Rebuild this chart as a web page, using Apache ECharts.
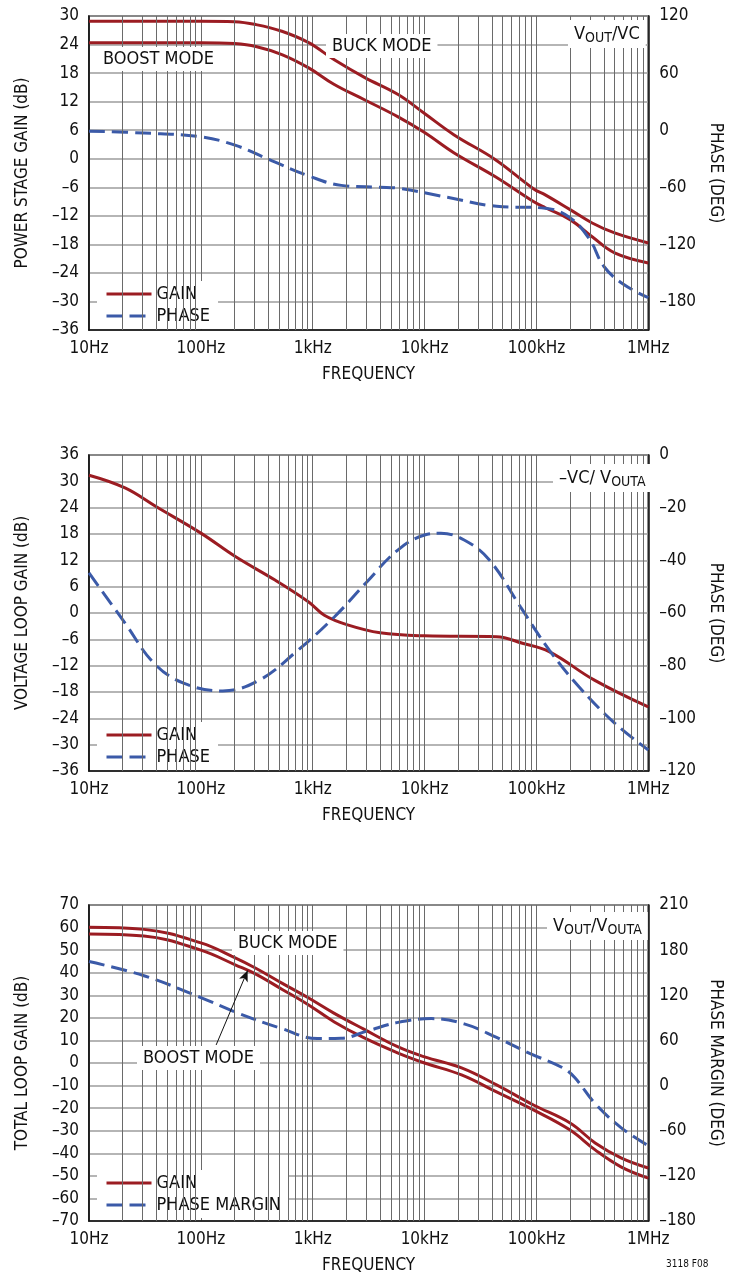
<!DOCTYPE html>
<html>
<head>
<meta charset="utf-8">
<script src="https://cdn.jsdelivr.net/npm/echarts@6/dist/echarts.min.js"></script>
<style>
  html, body { margin: 0; padding: 0; background: #fff; }
  #chart { width: 732px; height: 1275px; }
</style>
</head>
<body>
<div id="chart"></div>
<script>
const FONT = "'Liberation Sans Narrow', 'DejaVu Sans Condensed', 'Arial Narrow', sans-serif";
const RED = '#9b1c22';
const BLUE = '#3b5aa8';
const INK = '#111';

// frequency axis (shared by the three plots)
const freqTickLabels = ['10Hz', '100Hz', '1kHz', '10kHz', '100kHz', '1MHz'];
const decades = [10, 100, 1000, 10000, 100000];

// plot 1: power stage, VOUT/VC
const gain1Freq = [10, 30, 100, 200, 310, 530, 920, 1560, 2900, 5800, 10000, 18400, 43000, 94000, 120000, 200000, 315000, 500000, 1000000];
const gain1Buck = [28.9, 28.9, 28.9, 28.8, 28.2, 26.8, 24.4, 20.8, 17.1, 13.5, 9.5, 5, -0.2, -6.3, -7.6, -10.7, -13.5, -15.6, -17.7];
const gain1Boost = [24.4, 24.4, 24.4, 24.2, 23.6, 21.9, 19.1, 15.6, 12.4, 8.8, 5.5, 1.2, -3.8, -9, -10.3, -12.8, -16.4, -19.8, -21.9];
const phase1Freq = [10, 31, 100, 205, 410, 920, 1800, 4000, 5800, 16000, 44000, 120000, 200000, 300000, 400000, 600000, 1000000];
const phase1 = [-1, -3, -7, -16, -31, -48, -58, -60, -61, -70.5, -80, -82, -92, -115, -143, -162, -176];
const gain1Ticks = [30, 24, 18, 12, 6, 0, -6, -12, -18, -24, -30, -36];
const phase1Ticks = [120, 60, 0, -60, -120, -180];

// plot 2: voltage loop, -VC/VOUTA
const gain2Freq = [10, 21, 40, 100, 205, 460, 920, 1270, 2050, 4000, 10000, 44000, 75000, 130000, 330000, 1000000];
const gain2 = [31.4, 28.5, 24.2, 18.2, 12.8, 7.5, 2.5, -0.5, -2.7, -4.5, -5.2, -5.4, -6.9, -8.8, -15.3, -21.4];
const phase2Freq = [10, 21, 38, 70, 157, 333, 690, 1560, 3000, 5800, 10000, 14000, 22600, 38000, 72000, 130000, 240000, 500000, 1000000];
const phase2 = [-44.8, -63.8, -79, -86.6, -89.6, -85.5, -75.2, -61.5, -48.5, -36, -30.4, -29.7, -32.3, -39.9, -57.7, -74, -88, -101.8, -112];
const gain2Ticks = [36, 30, 24, 18, 12, 6, 0, -6, -12, -18, -24, -30, -36];
const phase2Ticks = [0, -20, -40, -60, -80, -100, -120];

// plot 3: total loop, VOUT/VOUTA
const gain3Freq = [10, 31, 100, 205, 310, 530, 920, 1560, 2860, 5800, 10000, 21400, 44000, 94000, 200000, 335000, 570000, 1000000];
const gain3Buck = [60.1, 59.2, 53.2, 46.5, 42, 35.4, 28.8, 22, 15, 7.1, 2.7, -2.2, -9.7, -18.6, -26.6, -35.4, -42, -46.5];
const gain3Boost = [57.2, 56.3, 50, 43.4, 39.4, 32.7, 25.7, 18.2, 11.2, 4.4, 0, -5.3, -12.8, -20.8, -29.7, -38.5, -46, -51];
const pm3Freq = [10, 31, 100, 205, 530, 1100, 1800, 3000, 5800, 11500, 22600, 44000, 88000, 170000, 220000, 335000, 570000, 1000000];
const pm3 = [164.8, 146, 117, 97.5, 75.7, 62.5, 62.9, 72, 84, 89, 82, 64, 42.5, 24, 10.6, -24, -55.8, -80];
const gain3Ticks = [70, 60, 50, 40, 30, 20, 10, 0, -10, -20, -30, -40, -50, -60, -70];
const pm3TickValues = [240, 180, 120, 60, 0, -60, -120, -180];
const pm3TickText = ['210', '180', '120', '60', '0', '–60', '–120', '–180'];

// arrow from the BOOST MODE label to its curve (freq, dB)
const boostArrow = [[137, 8], [262, 41]];

const zip = (xs, ys) => xs.map((x, i) => [x, ys[i]]);
const dash = v => (v < 0 ? '–' + (-v) : String(v));
const minorFreqs = [];
decades.forEach(d => { for (let k = 2; k <= 9; k++) minorFreqs.push(d * k); });

const labelStyle = { fontFamily: FONT, fontSize: 17, color: INK };

const grids = [
  { left: 89, top: 16, width: 568, height: 314 },
  { left: 89, top: 455, width: 568, height: 316 },
  { left: 89, top: 905, width: 568, height: 316 }
].map(g => Object.assign(g, { show: true, borderColor: INK, borderWidth: 1.5, containLabel: false }));

const xAxes = [0, 1, 2].map(i => ({
  type: 'log', logBase: 10, min: 10, max: 1000000, gridIndex: i,
  axisLine: { onZero: false, lineStyle: { color: INK, width: 1.5 } },
  axisTick: { show: false },
  axisLabel: Object.assign({ margin: 10, showMinLabel: true, showMaxLabel: true,
    formatter: v => freqTickLabels[Math.round(Math.log10(v)) - 1] }, labelStyle),
  splitLine: { show: true, lineStyle: { color: '#6a6a6a', width: 1 } },
  name: 'FREQUENCY', nameLocation: 'middle', nameGap: 36,
  nameTextStyle: Object.assign({}, labelStyle)
}));

function leftAxis(i, min, max, interval, ticks, name) {
  return {
    type: 'value', gridIndex: i, position: 'left', min, max, interval,
    axisLine: { show: true, onZero: false, lineStyle: { color: INK, width: 1.5 } },
    axisTick: { show: false },
    axisLabel: Object.assign({ margin: 10, formatter: v => (ticks.includes(v) ? dash(v) : '') }, labelStyle),
    splitLine: { show: true, lineStyle: { color: '#9c9c9c', width: 1.5 } },
    name, nameLocation: 'middle', nameGap: 58, nameRotate: 90,
    nameTextStyle: Object.assign({}, labelStyle)
  };
}
function rightAxis(i, min, max, interval, fmt, name) {
  return {
    type: 'value', gridIndex: i, position: 'right', min, max, interval,
    axisLine: { show: true, onZero: false, lineStyle: { color: INK, width: 1.5 } },
    axisTick: { show: false },
    axisLabel: Object.assign({ margin: 11, formatter: fmt }, labelStyle),
    splitLine: { show: false },
    name, nameLocation: 'middle', nameGap: 56, nameRotate: -90,
    nameTextStyle: Object.assign({}, labelStyle)
  };
}

const yAxes = [
  leftAxis(0, -36, 30, 6, gain1Ticks, 'POWER STAGE GAIN (dB)'),
  rightAxis(0, -210, 120, 30, v => (phase1Ticks.includes(v) ? dash(v) : ''), 'PHASE (DEG)'),
  leftAxis(1, -36, 36, 6, gain2Ticks, 'VOLTAGE LOOP GAIN (dB)'),
  rightAxis(1, -120, 0, 10, v => (phase2Ticks.includes(v) ? dash(v) : ''), 'PHASE (DEG)'),
  leftAxis(2, -70, 70, 10, gain3Ticks, 'TOTAL LOOP GAIN (dB)'),
  rightAxis(2, -180, 240, 30, v => { const k = pm3TickValues.indexOf(v); return k < 0 ? '' : pm3TickText[k]; }, 'PHASE MARGIN (DEG)')
];

function gridLines(i) {
  return {
    type: 'line', name: 'grid' + i, xAxisIndex: i, yAxisIndex: 2 * i, data: [], z: 1, silent: true,
    markLine: {
      silent: true, animation: false, symbol: ['none', 'none'], label: { show: false },
      lineStyle: { color: '#6a6a6a', width: 1, type: 'solid' },
      emphasis: { disabled: true },
      data: minorFreqs.map(f => ({ xAxis: f }))
    }
  };
}
function curve(name, i, yIdx, pts, color, dashed) {
  return {
    type: 'line', name, xAxisIndex: i, yAxisIndex: yIdx, data: pts, z: 3,
    symbol: 'none', showSymbol: false, smooth: 0.4, animation: false,
    lineStyle: { color, width: 3, type: dashed ? [16, 7] : 'solid' },
    itemStyle: { color }
  };
}

const boost3 = curve('GAIN', 2, 4, zip(gain3Freq, gain3Boost), RED, false);
boost3.markLine = {
  silent: true, animation: false, symbol: ['none', 'arrow'], symbolSize: [7, 11],
  label: { show: false }, lineStyle: { color: INK, width: 1, type: 'solid' },
  data: [[{ coord: boostArrow[0] }, { coord: boostArrow[1] }]]
};

const series = [
  gridLines(0), gridLines(1), gridLines(2),
  curve('GAIN', 0, 0, zip(gain1Freq, gain1Buck), RED, false),
  curve('GAIN', 0, 0, zip(gain1Freq, gain1Boost), RED, false),
  curve('PHASE', 0, 1, zip(phase1Freq, phase1), BLUE, true),
  curve('GAIN', 1, 2, zip(gain2Freq, gain2), RED, false),
  curve('PHASE', 1, 3, zip(phase2Freq, phase2), BLUE, true),
  curve('GAIN', 2, 4, zip(gain3Freq, gain3Buck), RED, false),
  boost3,
  curve('PHASE MARGIN', 2, 5, zip(pm3Freq, pm3), BLUE, true)
];

function legend(top, names) {
  return {
    orient: 'vertical', left: 97, top, data: names, selectedMode: false,
    itemWidth: 45, itemHeight: 14, itemGap: 4,
    itemStyle: { opacity: 0 },
    lineStyle: { width: 3 },
    backgroundColor: '#fff', padding: [4, 8, 4, 8],
    textStyle: { fontFamily: FONT, fontSize: 18, color: INK }
  };
}

function note(left, top, text) {
  return {
    type: 'text', left, top, z: 100,
    style: {
      text, fill: INK, fontFamily: FONT, fontSize: 18,
      backgroundColor: '#fff', padding: [3, 6, 3, 6],
      rich: {
        m: { fontFamily: FONT, fontSize: 18, lineHeight: 22, verticalAlign: 'middle', fill: INK },
        s: { fontFamily: FONT, fontSize: 14, lineHeight: 14, verticalAlign: 'bottom', fill: INK }
      }
    }
  };
}

const chart = echarts.init(document.getElementById('chart'), null, { renderer: 'canvas' });
chart.setOption({
  backgroundColor: '#fff',
  animation: false,
  grid: grids,
  xAxis: xAxes,
  yAxis: yAxes,
  legend: [legend(281, ['GAIN', 'PHASE']), legend(722, ['GAIN', 'PHASE']), legend(1170, ['GAIN', 'PHASE MARGIN'])],
  series,
  graphic: [
    note(97, 47, 'BOOST MODE'),
    note(326, 34, 'BUCK MODE'),
    note(568, 20, '{m|V}{s|OUT}{m|/VC}'),
    note(553, 464, '{m|–VC/ V}{s|OUTA}'),
    note(232, 931, 'BUCK MODE'),
    note(137, 1046, 'BOOST MODE'),
    note(547, 912, '{m|V}{s|OUT}{m|/V}{s|OUTA}'),
    { type: 'text', left: 666, top: 1259, z: 100,
      style: { text: '3118 F08', fill: INK, fontFamily: FONT, fontSize: 10 } }
  ]
});
</script>
</body>
</html>
